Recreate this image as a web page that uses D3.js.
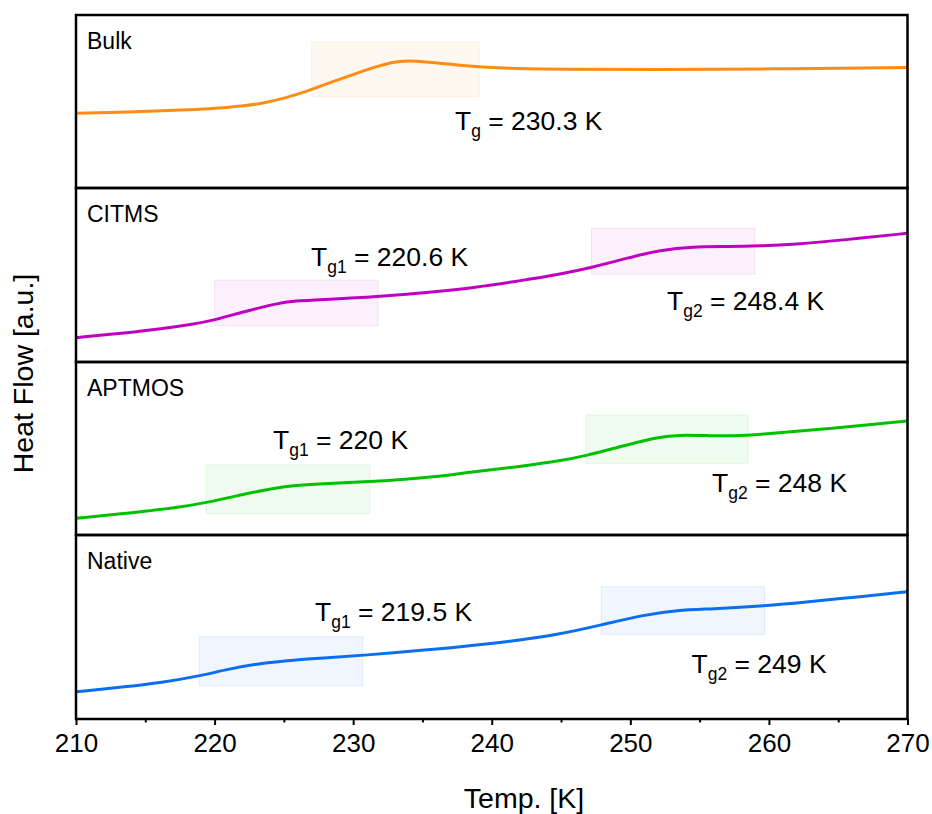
<!DOCTYPE html>
<html>
<head>
<meta charset="utf-8">
<script src="https://cdn.jsdelivr.net/npm/d3@7"></script>
<style>
  html, body { margin: 0; padding: 0; background: #fff; }
  svg { display: block; }
  text { font-family: "Liberation Sans", Arial, sans-serif; fill: #000; }
</style>
</head>
<body>
<svg id="chart" width="932" height="814"></svg>
<script>
// DSC heat-flow traces (temperature in K, heat flow in arbitrary units)
const samples = ["Bulk", "CITMS", "APTMOS", "Native"];
const colors  = ["#ff8c14", "#c000c0", "#00c000", "#0a6ef2"];

const bulkT  = [210, 215, 218.4, 220, 222, 223.5, 225, 226.9, 228, 230.5, 231.5, 232.9, 233.9, 235.3, 237.7, 241.3, 245, 252, 260, 270];
const bulkHF = [43.2, 44.2, 45.3, 46.0, 47.3, 49.0, 51.8, 56.5, 60.0, 67.0, 69.8, 72.9, 73.7, 72.9, 70.8, 68.9, 68.6, 68.5, 68.8, 69.6];

const citmsT  = [210, 213.7, 216.1, 218.5, 220, 222.1, 224.5, 225.7, 228.1, 231.7, 235.3, 238.9, 242, 244.9, 247.3, 249.7, 252.2, 254.5, 257, 259.4, 261.8, 265.4, 270];
const citmsHF = [14.0, 16.8, 19.0, 21.8, 24.1, 28.9, 33.7, 35.1, 36.0, 37.5, 39.8, 42.9, 46.6, 50.4, 54.4, 59.6, 64.4, 66.3, 66.3, 66.7, 67.6, 70.1, 74.0];

const aptmosT  = [210, 213.7, 217.3, 219.4, 222.1, 224.5, 226.9, 231.2, 235.3, 237.7, 238.9, 242, 244.9, 246.8, 249.7, 252.2, 253.4, 255.8, 257.4, 259.4, 264.2, 270];
const aptmosHF = [9.7, 12.5, 15.8, 18.7, 23.5, 27.6, 29.3, 30.8, 33.1, 35.5, 36.7, 39.6, 42.8, 45.8, 52.0, 56.8, 57.8, 57.4, 57.2, 58.2, 61.3, 65.9];

const nativeT  = [210, 213.7, 216.1, 219, 220.9, 223.3, 225.7, 228.1, 230.7, 235.3, 237.7, 241.3, 244.9, 247.9, 250.9, 253.4, 255.8, 259.7, 263, 266.6, 270];
const nativeHF = [14.8, 17.6, 19.7, 23.5, 27.0, 30.3, 32.1, 33.2, 34.6, 37.5, 39.2, 42.0, 46.0, 51.1, 56.5, 59.2, 59.8, 61.4, 63.8, 66.5, 69.2];

// glass-transition regions per sample: [T start, T end, HF low, HF high]
const bulkRegions   = [[227.0, 239.1, 52.8, 84.2]];
const citmsRegions  = [[220.0, 231.8, 20.9, 47.1], [247.2, 259.0, 50.4, 76.8]];
const aptmosRegions = [[219.4, 231.2, 12.3, 40.5], [246.8, 258.5, 41.4, 69.4]];
const nativeRegions = [[218.9, 230.7, 18.1, 44.7], [247.9, 259.7, 46.0, 71.9]];

// Tg annotations: [subscript, value text]
const bulkTg   = [["g", "230.3 K"]];
const citmsTg  = [["g1", "220.6 K"], ["g2", "248.4 K"]];
const aptmosTg = [["g1", "220 K"], ["g2", "248 K"]];
const nativeTg = [["g1", "219.5 K"], ["g2", "249 K"]];

const xTicks = [210, 220, 230, 240, 250, 260, 270];
const xMinorTicks = [215, 225, 235, 245, 255, 265];

const traces = [
  { T: bulkT, HF: bulkHF, regions: bulkRegions, tg: bulkTg },
  { T: citmsT, HF: citmsHF, regions: citmsRegions, tg: citmsTg },
  { T: aptmosT, HF: aptmosHF, regions: aptmosRegions, tg: aptmosTg },
  { T: nativeT, HF: nativeHF, regions: nativeRegions, tg: nativeTg }
];

// ---- layout ----
const left = 76, right = 907.5;
const panelBounds = [[15, 188], [188, 362], [362, 535], [535, 719]];
// annotation anchor (left x, baseline y) for each Tg label
const tgAnchors = [
  [[455, 129.5]],
  [[311, 266], [667, 310]],
  [[273, 448.5], [712, 492]],
  [[315, 621], [691.5, 673]]
];

const svg = d3.select("#chart");
const x = d3.scaleLinear().domain([210, 270]).range([left, right]);

traces.forEach((tr, i) => {
  const [top, bottom] = panelBounds[i];
  const y = d3.scaleLinear().domain([0, 100]).range([bottom, top]);
  const g = svg.append("g");
  const c = colors[i];

  // shaded transition regions
  g.selectAll("rect.region").data(tr.regions).join("rect")
    .attr("class", "region")
    .attr("x", d => x(d[0]))
    .attr("width", d => x(d[1]) - x(d[0]))
    .attr("y", d => y(d[3]))
    .attr("height", d => y(d[2]) - y(d[3]))
    .attr("fill", c).attr("fill-opacity", 0.06)
    .attr("stroke", c).attr("stroke-opacity", 0.1).attr("stroke-width", 1);

  // trace
  const pts = tr.T.map((t, k) => [t, tr.HF[k]]);
  g.append("path")
    .datum(pts)
    .attr("fill", "none")
    .attr("stroke", c)
    .attr("stroke-width", 3)
    .attr("d", d3.line().x(d => x(d[0])).y(d => y(d[1])).curve(d3.curveBasis));

  // panel frame
  g.append("rect")
    .attr("x", left).attr("y", top)
    .attr("width", right - left).attr("height", bottom - top)
    .attr("fill", "none").attr("stroke", "#000").attr("stroke-width", 2.5);

  // sample name
  g.append("text")
    .attr("x", 87).attr("y", top + 34.3)
    .attr("font-size", 23)
    .text(samples[i]);

  // Tg labels
  tr.tg.forEach((lab, k) => {
    const [ax, ay] = tgAnchors[i][k];
    const t = g.append("text").attr("x", ax).attr("y", ay).attr("font-size", 26.5);
    t.append("tspan").text("T");
    t.append("tspan").attr("font-size", 17.5).attr("dy", 7).text(lab[0]);
    t.append("tspan").attr("dy", -7).text(" = " + lab[1]);
  });
});

// bottom axis
const bottomY = panelBounds[3][1];
const axis = svg.append("g").attr("transform", `translate(0,${bottomY})`)
  .call(d3.axisBottom(x).tickValues(xTicks).tickFormat(d3.format("d")).tickSize(6).tickSizeOuter(0));
axis.select(".domain").remove();
axis.selectAll(".tick line").attr("stroke", "#000").attr("stroke-width", 2);
axis.selectAll(".tick text")
  .attr("font-size", 26).attr("font-family", "Liberation Sans, Arial, sans-serif")
  .attr("fill", "#000").attr("dy", "0").attr("y", 33);

svg.append("g").attr("transform", `translate(0,${bottomY})`)
  .call(d3.axisBottom(x).tickValues(xMinorTicks).tickFormat("").tickSize(3.5).tickSizeOuter(0))
  .call(a => a.select(".domain").remove())
  .selectAll(".tick line").attr("stroke", "#000").attr("stroke-width", 2);

// axis titles
svg.append("text")
  .attr("x", 524).attr("y", 808)
  .attr("text-anchor", "middle").attr("font-size", 28.5)
  .text("Temp. [K]");

svg.append("text")
  .attr("transform", "translate(33,373.5) rotate(-90)")
  .attr("text-anchor", "middle").attr("font-size", 28.5)
  .text("Heat Flow [a.u.]");
</script>
</body>
</html>
